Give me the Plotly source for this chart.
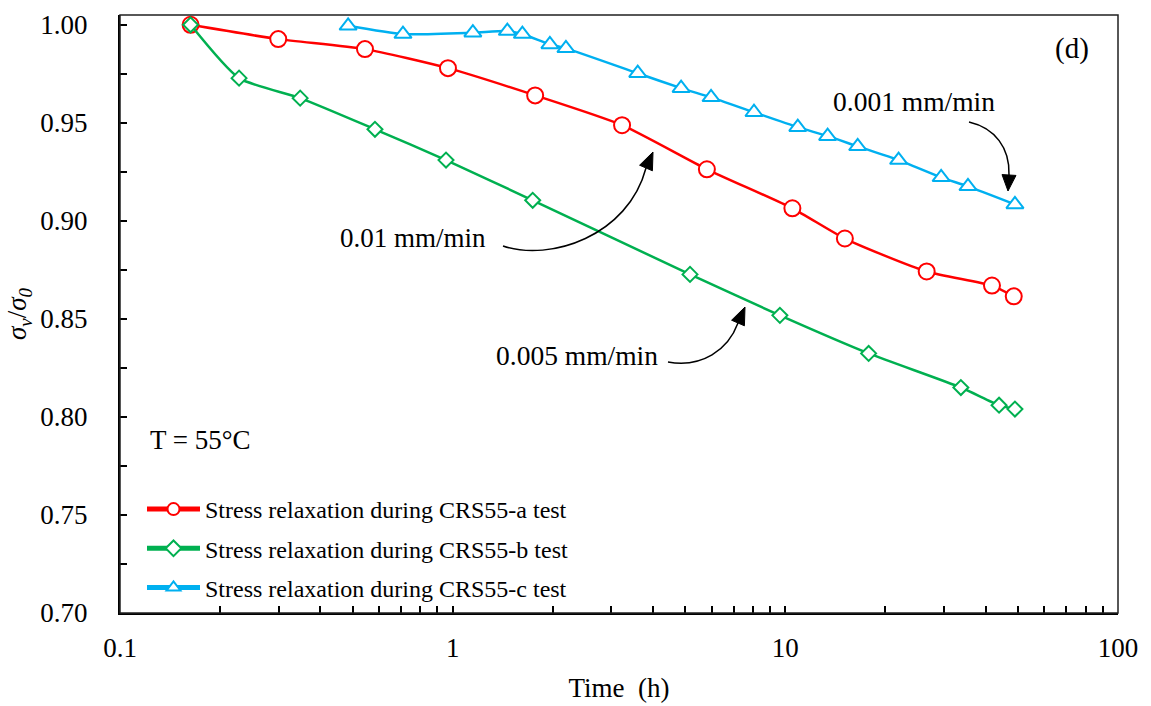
import plotly.graph_objects as go

# ---- data ----
t_a = [0.163, 0.299, 0.545, 0.968, 1.77, 3.23, 5.81, 10.5, 15.1, 26.6, 41.8, 48.6]
s_a = [1.000, 0.9927, 0.9876, 0.9779, 0.964, 0.9488, 0.9263, 0.9064, 0.891, 0.8742, 0.867, 0.8615]

t_b = [0.163, 0.228, 0.348, 0.584, 0.955, 1.74, 5.17, 9.63, 17.8, 33.7, 43.9, 49.0]
s_b = [1.000, 0.9728, 0.9626, 0.9467, 0.931, 0.9105, 0.8727, 0.8518, 0.8324, 0.815, 0.806, 0.804]

t_c = [0.485, 0.709, 1.15, 1.46, 1.62, 1.96, 2.19, 3.60, 4.86, 5.98, 8.05, 10.9,
       13.4, 16.5, 21.9, 29.4, 35.4, 49.0]
s_c = [0.9995, 0.9953, 0.996, 0.9968, 0.9953, 0.990, 0.988, 0.9753, 0.9677, 0.963,
       0.9554, 0.9478, 0.9432, 0.938, 0.931, 0.9222, 0.9176, 0.9084]

names = ["Stress relaxation during CRS55-a test",
         "Stress relaxation during CRS55-b test",
         "Stress relaxation during CRS55-c test"]

x_ticks = [0.1, 1, 10, 100]
x_ticklabels = ["0.1", "1", "10", "100"]
y_ticks = [0.70, 0.75, 0.80, 0.85, 0.90, 0.95, 1.00]

FONT = "Liberation Serif"
W, H = 1151, 706
L, R, T, B = 120, 33, 15, 93
PW, PH = W - L - R, H - T - B


def px(x):
    return (x - L) / PW


def py(y):
    return (H - B - y) / PH


fig = go.Figure()

series = [
    (t_a, s_a, "#FF0000", "circle", 16),
    (t_b, s_b, "#00B050", "diamond", 11.5),
    (t_c, s_c, "#00B0F0", "triangle-up", 15),
]
for i, (tx, sy, col, sym, sz) in enumerate(series):
    fig.add_trace(go.Scatter(
        x=tx, y=sy, mode="lines+markers", name=names[i],
        legendgroup=f"g{i}",
        line=dict(color=col, width=2.5, shape="spline", smoothing=0.6),
        marker=dict(symbol=sym, size=sz, color="white",
                    line=dict(color=col, width=2)),
    ))

minor_vals = [m * 10 ** e for e in (-1, 0, 1) for m in range(2, 10)]

fig.update_xaxes(
    type="log", range=[-1, 2], automargin=False,
    tickmode="array", tickvals=x_ticks, ticktext=x_ticklabels,
    ticks="inside", ticklen=7, tickwidth=1.5, tickcolor="black",
    minor=dict(tickmode="array", tickvals=minor_vals, ticks="inside",
               ticklen=7, tickwidth=1.5, tickcolor="black", showgrid=False),
    showline=True, linecolor="black", linewidth=2,
    showgrid=False, zeroline=False,
    tickfont=dict(family=FONT, size=27, color="black"),
    ticklabelstandoff=10,
    title=dict(text="Time\u2002(h)", font=dict(family=FONT, size=27, color="black"),
               standoff=16),
)
fig.update_yaxes(
    range=[0.70, 1.005], automargin=False,
    tickmode="array", tickvals=y_ticks, tickformat=".2f",
    ticks="inside", ticklen=7, tickwidth=1.5, tickcolor="black",
    minor=dict(dtick=0.025, ticks="inside", ticklen=7, tickwidth=1.5,
               tickcolor="black", showgrid=False),
    showline=True, linecolor="black", linewidth=2,
    showgrid=False, zeroline=False,
    tickfont=dict(family=FONT, size=27, color="black"),
    ticklabelstandoff=25,
    title=dict(text="<i>σ<sub>v</sub></i>/<i>σ<sub>0</sub></i>",
               font=dict(family=FONT, size=27, color="black"), standoff=6),
)

# plot frame (top/right)
fig.add_shape(type="rect", xref="paper", yref="paper", x0=0, x1=1, y0=0, y1=1,
              line=dict(color="#202020", width=1.5), layer="above")


def curve_arrow(p0, p1, p2, tip, base):
    # curve from p0 to base (cubic) in pixel coords, arrowhead triangle to tip
    path = (f"M{px(p0[0])},{py(p0[1])} C{px(p1[0])},{py(p1[1])} "
            f"{px(p2[0])},{py(p2[1])} {px(base[0])},{py(base[1])}")
    fig.add_shape(type="path", xref="paper", yref="paper", path=path,
                  line=dict(color="black", width=1.5))
    dx, dy = tip[0] - base[0], tip[1] - base[1]
    ln = (dx * dx + dy * dy) ** 0.5
    nx, ny = -dy / ln * 7, dx / ln * 7
    tri = (f"M{px(tip[0])},{py(tip[1])} L{px(base[0] + nx)},{py(base[1] + ny)} "
           f"L{px(base[0] - nx)},{py(base[1] - ny)} Z")
    fig.add_shape(type="path", xref="paper", yref="paper", path=tri,
                  fillcolor="black", line=dict(color="black", width=1))


curve_arrow((503, 246), (550, 262), (628, 236), (653, 152), (646, 168))
curve_arrow((668, 362), (702, 368), (728, 350), (745, 307), (738, 323))
curve_arrow((969, 122), (995, 128), (1010, 148), (1008, 191), (1009, 175))

texts = [
    ("(d)", 1072, 49, "center", 29),
    ("0.001 mm/min", 914, 101, "center", 27.5),
    ("0.01 mm/min", 413, 238, "center", 27),
    ("0.005 mm/min", 577, 355, "center", 27.5),
    ("T = 55°C", 148, 440, "left", 27),
]
for txt, x, y, anc, fs in texts:
    fig.add_annotation(text=txt, xref="paper", yref="paper", x=px(x), y=py(y),
                       xanchor=anc, yanchor="middle", showarrow=False,
                       font=dict(family=FONT, size=fs, color="black"))

fig.update_layout(
    width=W, height=H,
    margin=dict(l=L, r=R, t=T, b=B, autoexpand=False),
    paper_bgcolor="white", plot_bgcolor="white",
    showlegend=True,
    legend=dict(x=px(142), y=py(487), xanchor="left", yanchor="top",
                font=dict(family=FONT, size=24, color="black"),
                bgcolor="rgba(0,0,0,0)", tracegroupgap=5, itemwidth=53,
                itemsizing="constant"),
)

fig.write_html("out.html")
